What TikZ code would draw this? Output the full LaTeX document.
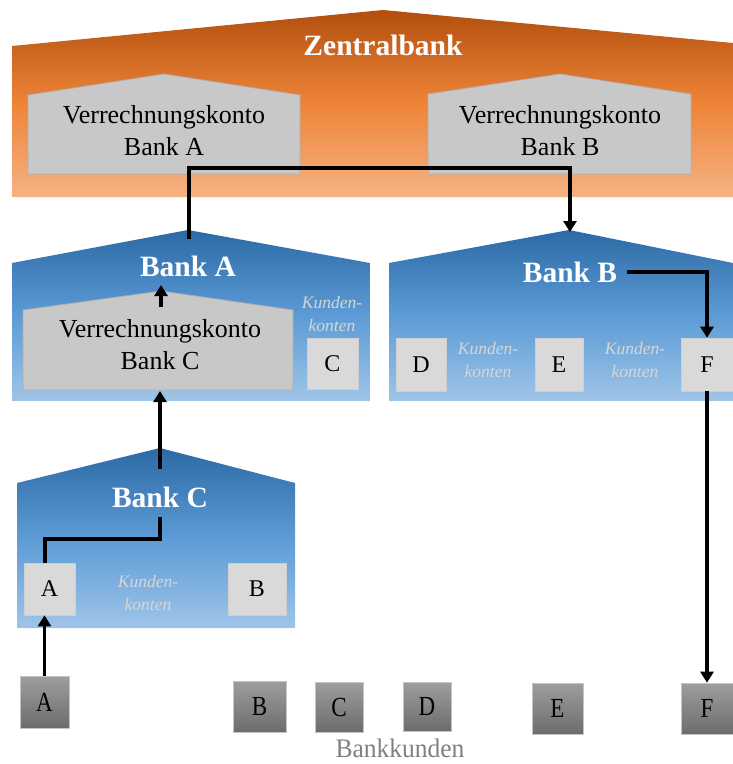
\documentclass[tikz,border=0pt]{standalone}
\usepackage{fontspec}
\setmainfont{Liberation Serif}
\usetikzlibrary{arrows.meta}

\definecolor{zbTop}{HTML}{B24F0E}
\definecolor{zbMid}{HTML}{EE8438}
\definecolor{zbBot}{HTML}{F5B383}
\definecolor{bkTop}{HTML}{2C6AA5}
\definecolor{bkMid}{HTML}{5C9BD6}
\definecolor{bkBot}{HTML}{9FC5E8}
\definecolor{kontoFill}{HTML}{C8C8C8}
\definecolor{kontoEdge}{HTML}{ADADAD}
\definecolor{acctFill}{HTML}{D9D9D9}
\definecolor{acctEdge}{HTML}{CFCFCF}
\definecolor{kdTop}{HTML}{9E9E9E}
\definecolor{kdBot}{HTML}{6C6C6C}
\definecolor{kdEdge}{HTML}{C4C4C4}
\definecolor{kkText}{HTML}{D6D6D6}
\definecolor{bkdText}{HTML}{808080}

\begin{document}
\begin{tikzpicture}[x=1pt,y=-1pt,
  zentral/.style={top color=zbTop, bottom color=zbBot, middle color=zbMid, draw=none},
  bankhouse/.style={top color=bkTop, bottom color=bkBot, middle color=bkMid, draw=none},
  konto/.style={fill=kontoFill, draw=kontoEdge, line width=0.8pt},
  title/.style={text=white, font=\fontsize{29.5}{34}\selectfont\bfseries, inner sep=0pt},
  kontotext/.style={align=center, text=black, inner sep=0pt,
    font=\fontsize{26}{32}\selectfont},
  acct/.style={rectangle, fill=acctFill, draw=acctEdge, line width=0.6pt,
    inner sep=0pt, text=black, font=\fontsize{24}{28}\selectfont},
  kunde/.style={rectangle, top color=kdTop, bottom color=kdBot, draw=kdEdge,
    line width=0.6pt, inner sep=0pt, text=black,
    font=\fontsize{23}{28}\selectfont},
  kklabel/.style={align=center, text=kkText, inner sep=0pt,
    font=\fontsize{17.5}{23}\selectfont\itshape},
  flow/.style={draw=black, line width=3.6pt, line join=miter,
    -{Triangle[length=11pt,width=13pt]}},
  link/.style={draw=black, line width=3.6pt, line join=miter}
]
\useasboundingbox (0,0) rectangle (733,764);

% ---------- Zentralbank ----------
\path[zentral] (12,197) -- (12,46) -- (383,10) -- (733,43) -- (733,197) -- cycle;
\node[title] (zb) at (383,45) {Zentralbank};

\path[konto] (28,174) -- (28,95) -- (164,74) -- (300,95) -- (300,174) -- cycle;
\node[kontotext] (vkA) at (164,131) {Verrechnungskonto\\Bank A};

\path[konto] (428,174) -- (428,94) -- (560,74) -- (691,94) -- (691,174) -- cycle;
\node[kontotext] (vkB) at (560,131) {Verrechnungskonto\\Bank B};

% ---------- Bank A ----------
\path[bankhouse] (12,401) -- (12,263) -- (188,230) -- (370,263) -- (370,401) -- cycle;
\node[title] (bA) at (188,266) {Bank A};

\path[konto] (23,390) -- (23,310) -- (161,291) -- (293,310) -- (293,390) -- cycle;
\node[kontotext] (vkC) at (160,345) {Verrechnungskonto\\Bank C};

\node[kklabel] (kkA) at (332,314) {Kunden-\\konten};
\node[acct, minimum width=51pt, minimum height=51pt] (accC) at (332.5,363.5) {C};

% ---------- Bank B ----------
\path[bankhouse] (389,401) -- (389,263) -- (569,230) -- (733,263) -- (733,401) -- cycle;
\node[title] (bB) at (570,272) {Bank B};

\node[acct, minimum width=50pt, minimum height=53pt] (accD) at (421,364.5) {D};
\node[kklabel] (kkB1) at (488,360) {Kunden-\\konten};
\node[acct, minimum width=48pt, minimum height=53pt] (accE) at (559,364.5) {E};
\node[kklabel] (kkB2) at (635,360) {Kunden-\\konten};
\node[acct, minimum width=52pt, minimum height=53pt] (accF) at (707,364.5) {F};

% ---------- Bank C ----------
\path[bankhouse] (17,628) -- (17,483) -- (160,448) -- (295,483) -- (295,628) -- cycle;
\node[title] (bC) at (160,497) {Bank C};

\node[acct, minimum width=51pt, minimum height=52pt] (accA) at (49.5,589) {A};
\node[kklabel] (kkC) at (148,593) {Kunden-\\konten};
\node[acct, minimum width=58pt, minimum height=52pt] (accB) at (257,589) {B};

% ---------- Bankkunden ----------
\node[kunde, minimum width=49pt, minimum height=52pt] (kA) at (44.5,702) {\scalebox{1}[1.2]{A}};
\node[kunde, minimum width=53pt, minimum height=51pt] (kB) at (259.5,706.5) {\scalebox{1}[1.2]{B}};
\node[kunde, minimum width=48pt, minimum height=50pt] (kC) at (339,707) {\scalebox{1}[1.2]{C}};
\node[kunde, minimum width=48pt, minimum height=49pt] (kD) at (427,706.5) {\scalebox{1}[1.2]{D}};
\node[kunde, minimum width=51pt, minimum height=51pt] (kE) at (557.5,708.5) {\scalebox{1}[1.2]{E}};
\node[kunde, minimum width=52pt, minimum height=51pt] (kF) at (707,708.5) {\scalebox{1}[1.2]{F}};
\node[text=bkdText, inner sep=0pt, font=\fontsize{25.5}{30}\selectfont] (kunden) at (400,748)
  {\scalebox{1}[1.05]{Bankkunden}};

% ---------- payment flow ----------
\coordinate (bAout) at (189,239);
\coordinate (bBin) at (570,232);
\coordinate (vkCtop) at (161,307);
\coordinate (bAin) at (161,285);
\coordinate (bCout) at (160,469);
\coordinate (vkCin) at (160,391);
\coordinate (bCacc) at (160,517);

\draw[flow] (kA.north) -- (kA.north |- accA.south);
\draw[link] (bCacc) -- ++(0,22) -| ([xshift=-4.5pt]accA.north);
\draw[flow] (bCout) -- (vkCin);
\draw[flow] (vkCtop) -- (bAin);
\draw[flow] (bAout) -- ++(0,-71) -| (bBin);
\draw[flow] ([xshift=10pt]bB.east) -| (accF.north);
\draw[flow] (accF.south) -- (kF.north);
\end{tikzpicture}
\end{document}
